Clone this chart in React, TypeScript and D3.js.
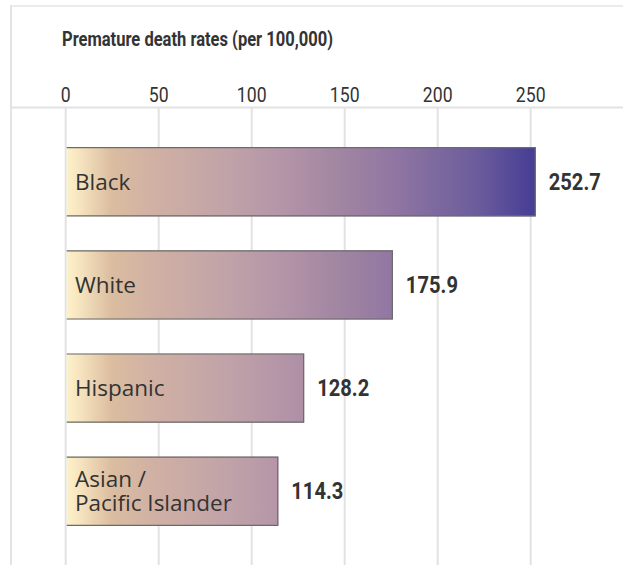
import React from "react";
import * as d3 from "d3";

const categories = ["Black", "White", "Hispanic", "Asian /\nPacific Islander"];
const values = [252.7, 175.9, 128.2, 114.3];
const ticks = [0, 50, 100, 150, 200, 250];
const title = "Premature death rates (per 100,000)";

const gradientStops: [number, string][] = [
  [0, "#fef3cb"],
  [0.03, "#f6e4bf"],
  [0.097, "#dbbda0"],
  [0.18, "#d1b1a3"],
  [0.32, "#c3a5a8"],
  [0.46, "#b495a8"],
  [0.59, "#a085a2"],
  [0.69, "#9277a3"],
  [0.745, "#8670a0"],
  [0.88, "#6a5b9c"],
  [1, "#453d95"],
];

const W = 623;
const H = 565;
const condensed = "Roboto, 'Noto Sans', sans-serif";
const SX = 0.84;

function CondText(props: {
  x: number;
  y: number;
  size: number;
  bold?: boolean;
  anchor?: "start" | "middle" | "end";
  children: React.ReactNode;
  length?: number;
}) {
  const { x, y, size, bold, anchor = "start", children, length } = props;
  if (length) {
    return (
      <text
        x={x}
        y={y}
        fontFamily={condensed}
        fontWeight={bold ? 700 : 400}
        fontSize={size}
        fill="#333"
        textLength={length}
        lengthAdjust="spacingAndGlyphs"
      >
        {children}
      </text>
    );
  }
  return (
    <text
      transform={`translate(${x},${y}) scale(${SX},1)`}
      textAnchor={anchor}
      fontFamily={condensed}
      fontWeight={bold ? 700 : 400}
      fontSize={size}
      fill="#333"
    >
      {children}
    </text>
  );
}

export default function App() {
  const x = d3.scaleLinear().domain([0, 300]).range([65.7, 623.7]);
  const y = d3
    .scaleBand<string>()
    .domain(categories)
    .range([108, 565])
    .paddingInner(0.33)
    .paddingOuter(0.38);
  const maxV = d3.max(values) as number;
  const bw = y.bandwidth();
  const frameX = 11;
  const frameY = 6;
  const axisY = 107.5;

  return (
    <svg
      width={W}
      height={H}
      style={{ position: "absolute", left: 0, top: 0, background: "#fff" }}
    >
      <defs>
        <linearGradient
          id="barGrad"
          gradientUnits="userSpaceOnUse"
          x1={x(0)}
          x2={x(maxV)}
          y1={0}
          y2={0}
        >
          {gradientStops.map(([o, c], i) => (
            <stop key={i} offset={o} stopColor={c} />
          ))}
        </linearGradient>
      </defs>
      {/* frame */}
      <line x1={frameX} x2={W} y1={frameY} y2={frameY} stroke="#ebebeb" strokeWidth={2} />
      <line x1={frameX} x2={frameX} y1={frameY - 1} y2={H} stroke="#e4e4e4" strokeWidth={2} />
      <line x1={frameX} x2={W} y1={axisY} y2={axisY} stroke="#e2e2e2" strokeWidth={2} />

      <CondText x={62} y={46} size={21} bold length={271}>
        {title}
      </CondText>

      {ticks.map((t) => (
        <g key={t}>
          <line
            x1={x(t)}
            x2={x(t)}
            y1={axisY}
            y2={H}
            stroke="#e2e2e2"
            strokeWidth={2}
          />
          <CondText x={x(t)} y={101.5} size={21} anchor="middle">
            {t}
          </CondText>
        </g>
      ))}

      {categories.map((c, i) => {
        const y0 = y(c) as number;
        const x0 = x(0) + 1;
        const x1 = x(values[i]);
        const lines = c.split("\n");
        const cy = y0 + bw / 2;
        return (
          <g key={c}>
            <rect x={x0} y={y0} width={x1 - x0} height={bw} fill="url(#barGrad)" />
            <path
              d={`M${x0},${y0 + 0.5}H${x1 - 0.5}V${y0 + bw - 0.5}H${x0}`}
              fill="none"
              stroke="#6b6b6b"
              strokeWidth={1.2}
            />
            <text
              fontFamily="'Open Sans', sans-serif"
              fontSize={22.5}
              fill="#333"
            >
              {lines.map((l, j) => (
                <tspan
                  key={j}
                  x={75}
                  y={cy + 8 + (j - (lines.length - 1) / 2) * 24}
                >
                  {l}
                </tspan>
              ))}
            </text>
            <CondText x={x1 + 13} y={cy + 8} size={24} bold>
              {values[i].toFixed(1)}
            </CondText>
          </g>
        );
      })}
    </svg>
  );
}
